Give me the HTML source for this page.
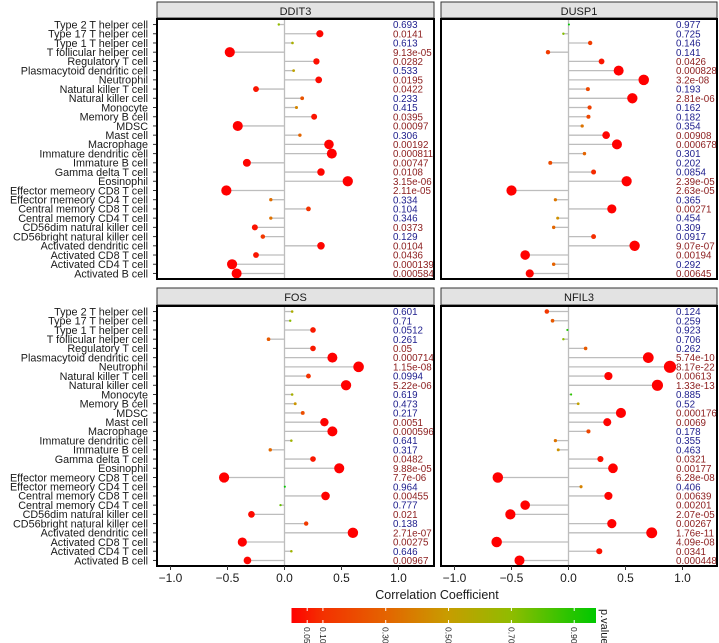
<!DOCTYPE html>
<html><head><meta charset="utf-8">
<style>
body{margin:0;background:#fff;}
svg{display:block;font-family:"Liberation Sans",sans-serif;}
</style></head>
<body>
<svg id="chart" width="719" height="643" viewBox="0 0 719 643" xmlns="http://www.w3.org/2000/svg">
<defs>
<linearGradient id="pgrad" x1="0" x2="1" y1="0" y2="0">
<stop offset="0" stop-color="#ff0000"/>
<stop offset="0.1" stop-color="#f43000"/>
<stop offset="0.31" stop-color="#e46400"/>
<stop offset="0.51" stop-color="#c89c00"/>
<stop offset="0.72" stop-color="#90bc00"/>
<stop offset="0.9" stop-color="#30c400"/>
<stop offset="1" stop-color="#00c800"/>
</linearGradient>
</defs>
</svg>
<script>
const cells = ["Type 2 T helper cell","Type 17 T helper cell","Type 1 T helper cell","T follicular helper cell","Regulatory T cell","Plasmacytoid dendritic cell","Neutrophil","Natural killer T cell","Natural killer cell","Monocyte","Memory B cell","MDSC","Mast cell","Macrophage","Immature dendritic cell","Immature  B cell","Gamma delta T cell","Eosinophil","Effector memeory CD8 T cell","Effector memeory CD4 T cell","Central memory CD8 T cell","Central memory CD4 T cell","CD56dim natural killer cell","CD56bright natural killer cell","Activated dendritic cell","Activated CD8 T cell","Activated CD4 T cell","Activated B cell"];
const genes = ["DDIT3","DUSP1","FOS","NFIL3"];
const corDDIT3 = [-0.05,0.31,0.07,-0.48,0.28,0.08,0.30,-0.25,0.155,0.105,0.26,-0.41,0.135,0.39,0.415,-0.33,0.32,0.555,-0.51,-0.12,0.21,-0.12,-0.26,-0.19,0.32,-0.25,-0.46,-0.42];
const pDDIT3 = ["0.693","0.0141","0.613","9.13e-05","0.0282","0.533","0.0195","0.0422","0.233","0.415","0.0395","0.00097","0.306","0.00192","0.000811","0.00747","0.0108","3.15e-06","2.11e-05","0.334","0.104","0.346","0.0373","0.129","0.0104","0.0436","0.000139","0.000584"];
const corDUSP1 = [0.004,-0.045,0.19,-0.18,0.29,0.44,0.66,0.17,0.56,0.185,0.175,0.12,0.33,0.425,0.14,-0.16,0.22,0.51,-0.50,-0.115,0.38,-0.095,-0.13,0.22,0.58,-0.38,-0.13,-0.34];
const pDUSP1 = ["0.977","0.725","0.146","0.141","0.0426","0.000828","3.2e-08","0.193","2.81e-06","0.162","0.182","0.354","0.00908","0.000678","0.301","0.202","0.0854","2.39e-05","2.63e-05","0.365","0.00271","0.454","0.309","0.0917","9.07e-07","0.00194","0.292","0.00645"];
const corFOS = [0.067,0.05,0.25,-0.14,0.25,0.42,0.65,0.21,0.54,0.067,0.094,0.16,0.35,0.42,0.06,-0.125,0.25,0.48,-0.53,0.003,0.36,-0.035,-0.29,0.19,0.60,-0.37,0.06,-0.325];
const pFOS = ["0.601","0.71","0.0512","0.261","0.05","0.000714","1.15e-08","0.0994","5.22e-06","0.619","0.473","0.217","0.0051","0.000596","0.641","0.317","0.0482","9.88e-05","7.7e-06","0.964","0.00455","0.777","0.021","0.138","2.71e-07","0.00275","0.646","0.00967"];
const corNFIL3 = [-0.19,-0.14,-0.01,-0.045,0.15,0.70,0.89,0.35,0.78,0.023,0.085,0.46,0.34,0.175,-0.115,-0.09,0.28,0.39,-0.62,0.11,0.35,-0.38,-0.51,0.38,0.73,-0.63,0.27,-0.43];
const pNFIL3 = ["0.124","0.259","0.923","0.706","0.262","5.74e-10","8.17e-22","0.00613","1.33e-13","0.885","0.52","0.000176","0.0069","0.178","0.355","0.463","0.0321","0.00177","6.28e-08","0.406","0.00639","0.00201","2.07e-05","0.00267","1.76e-11","4.09e-08","0.0341","0.000448"];
const xTicks = [-1.0,-0.5,0.0,0.5,1.0];
const pTicks = [0.05,0.10,0.30,0.50,0.70,0.90];

const cors = [corDDIT3,corDUSP1,corFOS,corNFIL3];
const pvals = [pDDIT3,pDUSP1,pFOS,pNFIL3];
const svg = document.getElementById('chart');
const NS = "http://www.w3.org/2000/svg";
function mk(tag, attrs, parent){const e=document.createElementNS(NS,tag);for(const k in attrs)e.setAttribute(k,attrs[k]);(parent||svg).appendChild(e);return e;}

const stops=[[0,[255,0,0]],[0.1,[244,48,0]],[0.31,[228,100,0]],[0.51,[200,156,0]],[0.72,[144,188,0]],[0.9,[48,196,0]],[1,[0,200,0]]];
function pcolor(p){const t=Math.min(1,Math.max(0,p/0.973));for(let i=1;i<stops.length;i++){if(t<=stops[i][0]){const a=stops[i-1],b=stops[i];const f=(t-a[0])/(b[0]-a[0]);const c=a[1].map((v,j)=>Math.round(v+(b[1][j]-v)*f));return `rgb(${c[0]},${c[1]},${c[2]})`;}}return 'rgb(0,200,0)';}
function prad(p){const L=-Math.log10(p);let r=Math.min(1.0+1.4*L,5.0);if(L>3)r+=Math.min((L-3)*0.06,1.3);return Math.max(r,0.8);}

const panels=[{x0:157,x1:434,hy:2,top:19,bot:279},{x0:441,x1:717,hy:2,top:19,bot:279},{x0:157,x1:434,hy:288,top:306,bot:566},{x0:441,x1:717,hy:288,top:306,bot:566}];
const UNIT=114;

panels.forEach((P,gi)=>{
  const zero = P.x0+127.5;
  const xs = v=>zero+v*UNIT;
  const step=(P.bot-P.top)/(27+1.2);
  const ys = i=>P.top+step*(0.6+i);
  const g=mk('g',{});
  
  
  const hd=mk('rect',{x:P.x0,y:P.hy,width:P.x1-P.x0,height:P.top-P.hy-1,fill:'#e3e3e3',stroke:'#333','stroke-width':1},g);
  
  
  const ht=mk('text',{x:(P.x0+P.x1)/2,y:P.hy+13,'text-anchor':'middle','font-size':11,fill:'#1a1a1a'},g);
  ht.textContent=genes[gi];
  
  
  mk('rect',{x:P.x0,y:P.top,width:P.x1-P.x0,height:P.bot-P.top,fill:'#fff'},g);
  const zl=mk('line',{x1:zero,x2:zero,y1:P.top,y2:P.bot,stroke:'#bdbdbd','stroke-width':1.3},g);
  
  
  cors[gi].forEach((v,i)=>{
    const y=ys(i), p=parseFloat(pvals[gi][i]);
    const sg=mk('line',{x1:zero,x2:xs(v),y1:y,y2:y,stroke:'#bdbdbd','stroke-width':1.3},g);
    
    
    const c=mk('circle',{cx:xs(v),cy:y,r:prad(p),fill:pcolor(p)},g);
    
    
    const t=mk('text',{x:P.x1-41,y:y+3.6,'font-size':9.8,fill:p<=0.05?'#8b1c1c':'#1c1c8c'},g);
    t.textContent=pvals[gi][i];
    
    
    if(gi%2===0){
      const tk=mk('line',{x1:P.x0-4,x2:P.x0,y1:y,y2:y,stroke:'#333','stroke-width':1},g);
      
      
      const l=mk('text',{x:P.x0-9,y:y+3.8,'text-anchor':'end','font-size':10.8,fill:'#1a1a1a'},g);
      l.textContent=cells[i];
      
      
    }
  });
  const bx=mk('rect',{x:P.x0,y:P.top,width:P.x1-P.x0,height:P.bot-P.top,fill:'none',stroke:'#000','stroke-width':2},g);
  
  
  if(gi>=2){
    xTicks.forEach(v=>{
      const tk=mk('line',{x1:xs(v),x2:xs(v),y1:P.bot,y2:P.bot+4,stroke:'#333','stroke-width':1},g);
      
      
      const l=mk('text',{x:xs(v),y:P.bot+16,'text-anchor':'middle','font-size':12,fill:'#1a1a1a'},g);
      l.textContent=(v<0?'\u2212':'')+Math.abs(v).toFixed(1);
      
      
    });
  }
});
const xt=mk('text',{x:437,y:599,'text-anchor':'middle','font-size':12.5,fill:'#1a1a1a'});
xt.textContent='Correlation Coefficient';



// color bar
const cbX0=291.5, cbX1=596, pScale=(574-307)/0.85;
const cbx=v=>cbX0+v*pScale;
const cb=mk('rect',{x:cbX0,y:608,width:cbX1-cbX0,height:15,fill:'url(#pgrad)'});


pTicks.forEach(v=>{
  const x=cbx(v);
  const tk=mk('line',{x1:x,x2:x,y1:608,y2:611,stroke:'#fff','stroke-width':1});
  
  
  const tk2=mk('line',{x1:x,x2:x,y1:620,y2:623,stroke:'#fff','stroke-width':1});
  
  
  const l=mk('text',{x:0,y:0,'font-size':8.5,fill:'#1a1a1a',transform:`translate(${x-3},627) rotate(90)`});
  l.textContent=v.toFixed(2);
  
  
});
const pl=mk('text',{x:0,y:0,'font-size':11,fill:'#1a1a1a',transform:'translate(601,609) rotate(90)'});
pl.textContent='p.value';


</script>
</body></html>
